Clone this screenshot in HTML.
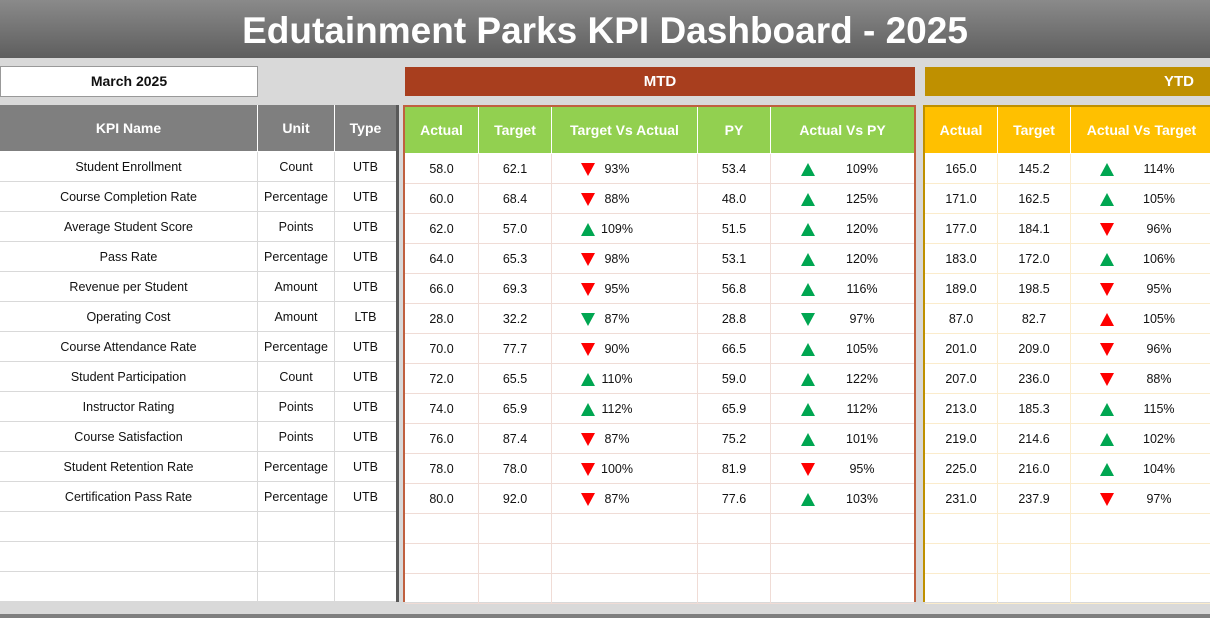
<!DOCTYPE html><html><head><meta charset="utf-8"><style>
*{margin:0;padding:0;box-sizing:border-box}
body{width:1210px;height:618px;background:#d9d9d9;font-family:"Liberation Sans",sans-serif;position:relative;overflow:hidden;font-size:12.5px;color:#111}
.title{position:absolute;left:0;top:0;width:1210px;height:58px;background:linear-gradient(#8a8a8a,#5e5e5e);color:#fff;font-weight:bold;font-size:37px;text-align:center;line-height:62px}
.date{position:absolute;left:0;top:66px;width:258px;height:31px;background:#fff;border:1px solid #999;text-align:center;line-height:29px;font-weight:bold;font-size:14px}
.bar{position:absolute;top:67px;height:29px;color:#fff;font-weight:bold;font-size:15px;line-height:29px}
.blk{position:absolute;top:105px;height:497px;background:#fff}
.row{display:flex;height:30px;line-height:30px}
.hd{height:47px;line-height:47px;color:#fff;font-weight:bold;font-size:14px}
.c{text-align:center;position:relative;border-right:1px solid;border-bottom:1px solid}
.L .c{border-color:#d9d9d9}.L .hd .c{border-color:#fff;background:#7f7f7f}
.M .c{border-color:#f0dcd6}.M .hd .c{border-color:#fff;background:#92d050}
.Y .c{border-color:#fbeccc}.Y .hd .c{border-color:#fff;background:#ffc000}
.u,.d{position:absolute;top:9px;width:0;height:0;border-left:7px solid transparent;border-right:7px solid transparent}
.u{border-bottom:13px solid #00a651}.d{border-top:13px solid #ff0000}
.d.g{border-top-color:#00a651}.u.r{border-bottom-color:#ff0000}
.p{position:absolute;width:50px;text-align:center}
.M .c3 .u,.M .c3 .d{left:29px}.M .c3 .p{left:40px}
.M .c5 .u,.M .c5 .d{left:30px}.M .c5 .p{left:66px}
.Y .c3 .u,.Y .c3 .d{left:29px}.Y .c3 .p{left:63px}
</style></head><body>
<div class="title">Edutainment Parks KPI Dashboard - 2025</div>
<div class="date">March 2025</div>
<div class="bar" style="left:405px;width:510px;background:#a83e1e;text-align:center">MTD</div>
<div class="bar" style="left:925px;width:285px;background:#bf9000;text-align:right;padding-right:16px">YTD</div>

<div class="blk L" style="left:0;width:399px;border-right:3px solid #595959">
<div class="row hd"><div class="c" style="width:258px">KPI Name</div><div class="c" style="width:77px">Unit</div><div class="c" style="width:61px;border-right:0">Type</div></div>
<div class="row"><div class="c" style="width:258px">Student Enrollment</div><div class="c" style="width:77px">Count</div><div class="c" style="width:61px;border-right:0">UTB</div></div>
<div class="row"><div class="c" style="width:258px">Course Completion Rate</div><div class="c" style="width:77px">Percentage</div><div class="c" style="width:61px;border-right:0">UTB</div></div>
<div class="row"><div class="c" style="width:258px">Average Student Score</div><div class="c" style="width:77px">Points</div><div class="c" style="width:61px;border-right:0">UTB</div></div>
<div class="row"><div class="c" style="width:258px">Pass Rate</div><div class="c" style="width:77px">Percentage</div><div class="c" style="width:61px;border-right:0">UTB</div></div>
<div class="row"><div class="c" style="width:258px">Revenue per Student</div><div class="c" style="width:77px">Amount</div><div class="c" style="width:61px;border-right:0">UTB</div></div>
<div class="row"><div class="c" style="width:258px">Operating Cost</div><div class="c" style="width:77px">Amount</div><div class="c" style="width:61px;border-right:0">LTB</div></div>
<div class="row"><div class="c" style="width:258px">Course Attendance Rate</div><div class="c" style="width:77px">Percentage</div><div class="c" style="width:61px;border-right:0">UTB</div></div>
<div class="row"><div class="c" style="width:258px">Student Participation</div><div class="c" style="width:77px">Count</div><div class="c" style="width:61px;border-right:0">UTB</div></div>
<div class="row"><div class="c" style="width:258px">Instructor Rating</div><div class="c" style="width:77px">Points</div><div class="c" style="width:61px;border-right:0">UTB</div></div>
<div class="row"><div class="c" style="width:258px">Course Satisfaction</div><div class="c" style="width:77px">Points</div><div class="c" style="width:61px;border-right:0">UTB</div></div>
<div class="row"><div class="c" style="width:258px">Student Retention Rate</div><div class="c" style="width:77px">Percentage</div><div class="c" style="width:61px;border-right:0">UTB</div></div>
<div class="row"><div class="c" style="width:258px">Certification Pass Rate</div><div class="c" style="width:77px">Percentage</div><div class="c" style="width:61px;border-right:0">UTB</div></div>
<div class="row"><div class="c" style="width:258px"></div><div class="c" style="width:77px"></div><div class="c" style="width:61px;border-right:0"></div></div>
<div class="row"><div class="c" style="width:258px"></div><div class="c" style="width:77px"></div><div class="c" style="width:61px;border-right:0"></div></div>
<div class="row"><div class="c" style="width:258px"></div><div class="c" style="width:77px"></div><div class="c" style="width:61px;border-right:0"></div></div>
</div>

<div class="blk M" style="left:403px;width:513px;border:2px solid #c0603f;border-bottom:0">
<div class="row hd"><div class="c" style="width:74px">Actual</div><div class="c" style="width:73px">Target</div><div class="c" style="width:146px">Target Vs Actual</div><div class="c" style="width:73px">PY</div><div class="c" style="width:143px;border-right:0">Actual Vs PY</div></div>
<div class="row"><div class="c" style="width:74px">58.0</div><div class="c" style="width:73px">62.1</div><div class="c c3" style="width:146px"><i class="d"></i><span class="p">93%</span></div><div class="c" style="width:73px">53.4</div><div class="c c5" style="width:143px;border-right:0"><i class="u"></i><span class="p">109%</span></div></div>
<div class="row"><div class="c" style="width:74px">60.0</div><div class="c" style="width:73px">68.4</div><div class="c c3" style="width:146px"><i class="d"></i><span class="p">88%</span></div><div class="c" style="width:73px">48.0</div><div class="c c5" style="width:143px;border-right:0"><i class="u"></i><span class="p">125%</span></div></div>
<div class="row"><div class="c" style="width:74px">62.0</div><div class="c" style="width:73px">57.0</div><div class="c c3" style="width:146px"><i class="u"></i><span class="p">109%</span></div><div class="c" style="width:73px">51.5</div><div class="c c5" style="width:143px;border-right:0"><i class="u"></i><span class="p">120%</span></div></div>
<div class="row"><div class="c" style="width:74px">64.0</div><div class="c" style="width:73px">65.3</div><div class="c c3" style="width:146px"><i class="d"></i><span class="p">98%</span></div><div class="c" style="width:73px">53.1</div><div class="c c5" style="width:143px;border-right:0"><i class="u"></i><span class="p">120%</span></div></div>
<div class="row"><div class="c" style="width:74px">66.0</div><div class="c" style="width:73px">69.3</div><div class="c c3" style="width:146px"><i class="d"></i><span class="p">95%</span></div><div class="c" style="width:73px">56.8</div><div class="c c5" style="width:143px;border-right:0"><i class="u"></i><span class="p">116%</span></div></div>
<div class="row"><div class="c" style="width:74px">28.0</div><div class="c" style="width:73px">32.2</div><div class="c c3" style="width:146px"><i class="d g"></i><span class="p">87%</span></div><div class="c" style="width:73px">28.8</div><div class="c c5" style="width:143px;border-right:0"><i class="d g"></i><span class="p">97%</span></div></div>
<div class="row"><div class="c" style="width:74px">70.0</div><div class="c" style="width:73px">77.7</div><div class="c c3" style="width:146px"><i class="d"></i><span class="p">90%</span></div><div class="c" style="width:73px">66.5</div><div class="c c5" style="width:143px;border-right:0"><i class="u"></i><span class="p">105%</span></div></div>
<div class="row"><div class="c" style="width:74px">72.0</div><div class="c" style="width:73px">65.5</div><div class="c c3" style="width:146px"><i class="u"></i><span class="p">110%</span></div><div class="c" style="width:73px">59.0</div><div class="c c5" style="width:143px;border-right:0"><i class="u"></i><span class="p">122%</span></div></div>
<div class="row"><div class="c" style="width:74px">74.0</div><div class="c" style="width:73px">65.9</div><div class="c c3" style="width:146px"><i class="u"></i><span class="p">112%</span></div><div class="c" style="width:73px">65.9</div><div class="c c5" style="width:143px;border-right:0"><i class="u"></i><span class="p">112%</span></div></div>
<div class="row"><div class="c" style="width:74px">76.0</div><div class="c" style="width:73px">87.4</div><div class="c c3" style="width:146px"><i class="d"></i><span class="p">87%</span></div><div class="c" style="width:73px">75.2</div><div class="c c5" style="width:143px;border-right:0"><i class="u"></i><span class="p">101%</span></div></div>
<div class="row"><div class="c" style="width:74px">78.0</div><div class="c" style="width:73px">78.0</div><div class="c c3" style="width:146px"><i class="d"></i><span class="p">100%</span></div><div class="c" style="width:73px">81.9</div><div class="c c5" style="width:143px;border-right:0"><i class="d"></i><span class="p">95%</span></div></div>
<div class="row"><div class="c" style="width:74px">80.0</div><div class="c" style="width:73px">92.0</div><div class="c c3" style="width:146px"><i class="d"></i><span class="p">87%</span></div><div class="c" style="width:73px">77.6</div><div class="c c5" style="width:143px;border-right:0"><i class="u"></i><span class="p">103%</span></div></div>
<div class="row"><div class="c" style="width:74px"></div><div class="c" style="width:73px"></div><div class="c" style="width:146px"></div><div class="c" style="width:73px"></div><div class="c" style="width:143px;border-right:0"></div></div>
<div class="row"><div class="c" style="width:74px"></div><div class="c" style="width:73px"></div><div class="c" style="width:146px"></div><div class="c" style="width:73px"></div><div class="c" style="width:143px;border-right:0"></div></div>
<div class="row"><div class="c" style="width:74px"></div><div class="c" style="width:73px"></div><div class="c" style="width:146px"></div><div class="c" style="width:73px"></div><div class="c" style="width:143px;border-right:0"></div></div>
</div>

<div class="blk Y" style="left:923px;width:290px;border:2px solid #bf9000;border-bottom:0;border-right:0">
<div class="row hd"><div class="c" style="width:73px">Actual</div><div class="c" style="width:73px">Target</div><div class="c" style="width:142px">Actual Vs Target</div></div>
<div class="row"><div class="c" style="width:73px">165.0</div><div class="c" style="width:73px">145.2</div><div class="c c3" style="width:142px"><i class="u"></i><span class="p">114%</span></div></div>
<div class="row"><div class="c" style="width:73px">171.0</div><div class="c" style="width:73px">162.5</div><div class="c c3" style="width:142px"><i class="u"></i><span class="p">105%</span></div></div>
<div class="row"><div class="c" style="width:73px">177.0</div><div class="c" style="width:73px">184.1</div><div class="c c3" style="width:142px"><i class="d"></i><span class="p">96%</span></div></div>
<div class="row"><div class="c" style="width:73px">183.0</div><div class="c" style="width:73px">172.0</div><div class="c c3" style="width:142px"><i class="u"></i><span class="p">106%</span></div></div>
<div class="row"><div class="c" style="width:73px">189.0</div><div class="c" style="width:73px">198.5</div><div class="c c3" style="width:142px"><i class="d"></i><span class="p">95%</span></div></div>
<div class="row"><div class="c" style="width:73px">87.0</div><div class="c" style="width:73px">82.7</div><div class="c c3" style="width:142px"><i class="u r"></i><span class="p">105%</span></div></div>
<div class="row"><div class="c" style="width:73px">201.0</div><div class="c" style="width:73px">209.0</div><div class="c c3" style="width:142px"><i class="d"></i><span class="p">96%</span></div></div>
<div class="row"><div class="c" style="width:73px">207.0</div><div class="c" style="width:73px">236.0</div><div class="c c3" style="width:142px"><i class="d"></i><span class="p">88%</span></div></div>
<div class="row"><div class="c" style="width:73px">213.0</div><div class="c" style="width:73px">185.3</div><div class="c c3" style="width:142px"><i class="u"></i><span class="p">115%</span></div></div>
<div class="row"><div class="c" style="width:73px">219.0</div><div class="c" style="width:73px">214.6</div><div class="c c3" style="width:142px"><i class="u"></i><span class="p">102%</span></div></div>
<div class="row"><div class="c" style="width:73px">225.0</div><div class="c" style="width:73px">216.0</div><div class="c c3" style="width:142px"><i class="u"></i><span class="p">104%</span></div></div>
<div class="row"><div class="c" style="width:73px">231.0</div><div class="c" style="width:73px">237.9</div><div class="c c3" style="width:142px"><i class="d"></i><span class="p">97%</span></div></div>
<div class="row"><div class="c" style="width:73px"></div><div class="c" style="width:73px"></div><div class="c" style="width:142px"></div></div>
<div class="row"><div class="c" style="width:73px"></div><div class="c" style="width:73px"></div><div class="c" style="width:142px"></div></div>
<div class="row"><div class="c" style="width:73px"></div><div class="c" style="width:73px"></div><div class="c" style="width:142px"></div></div>
</div>
<div style="position:absolute;left:0;top:614px;width:1210px;height:4px;background:#7f7f7f"></div>
</body></html>
